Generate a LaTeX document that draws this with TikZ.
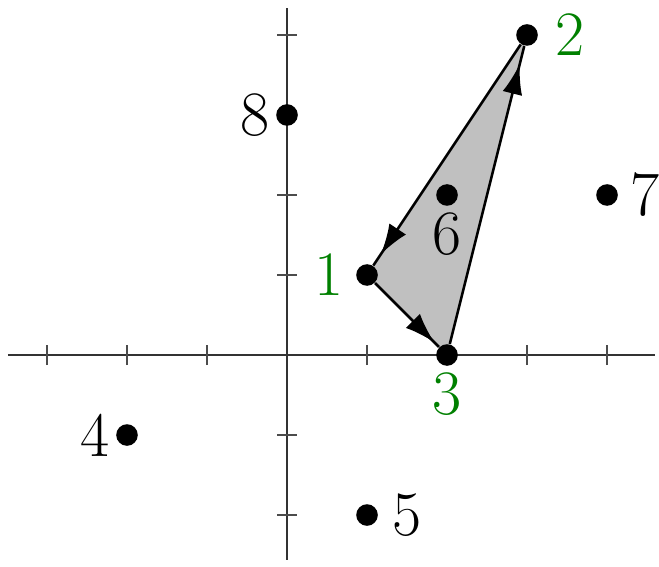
\documentclass[tikz,border=0pt]{standalone}
\usepackage{xcolor}
\usepackage{tikz}
\usetikzlibrary{arrows.meta,backgrounds,decorations.markings}
\definecolor{hullgreen}{HTML}{008000}
\definecolor{hullfill}{HTML}{C0C0C0}

\begin{document}
\begin{tikzpicture}[
  pt/.style={circle, fill=black, inner sep=0pt, minimum size=0.27cm},
  every label/.style={inner sep=2pt, font=\fontsize{22.5}{27}\selectfont},
  axis/.style={black!80, line width=0.45pt},
  tick/.style={black!70, line width=0.45pt},
  hull/.style={line width=0.9pt, postaction={decorate}, decoration={markings,
    mark=at position #1 with {\arrow{Latex[length=0.38cm, width=0.25cm]}}}}
]
  \useasboundingbox (-3.5875,-2.6375) rectangle (4.65,4.4375);

  \node[pt, label={[hullgreen, label distance=2pt]left:1}] (p1) at (1,1) {};
  \node[pt, label={[hullgreen, label distance=4pt]right:2}] (p2) at (3,4) {};
  \node[pt, label={[hullgreen]below:3}] (p3) at (2,0) {};
  \node[pt, label={left:4}] (p4) at (-2,-1) {};
  \node[pt, label={[label distance=3pt]right:5}] (p5) at (1,-2) {};
  \node[pt, label={below:6}] (p6) at (2,2) {};
  \node[pt, label={[label distance=2pt]right:7}] (p7) at (4,2) {};
  \node[pt, label={left:8}] (p8) at (0,3) {};

  \begin{pgfonlayer}{background}
    \draw[axis] (-3.49,0) -- (4.6,0);
    \draw[axis] (0,-2.56) -- (0,4.34);
    \foreach \x in {-3,-2,-1,1,2,3,4}
      \draw[tick] (\x,-0.125) -- (\x,0.125);
    \foreach \y in {-2,-1,1,2,3,4}
      \draw[tick] (-0.125,\y) -- (0.125,\y);

    \fill[hullfill] (p1.center) -- (p3.center) -- (p2.center) -- cycle;
    \draw[hull=0.93] (p1) -- (p3);
    \draw[hull=0.94] (p3) -- (p2);
    \draw[hull=0.95] (p2) -- (p1);
  \end{pgfonlayer}
\end{tikzpicture}
\end{document}
